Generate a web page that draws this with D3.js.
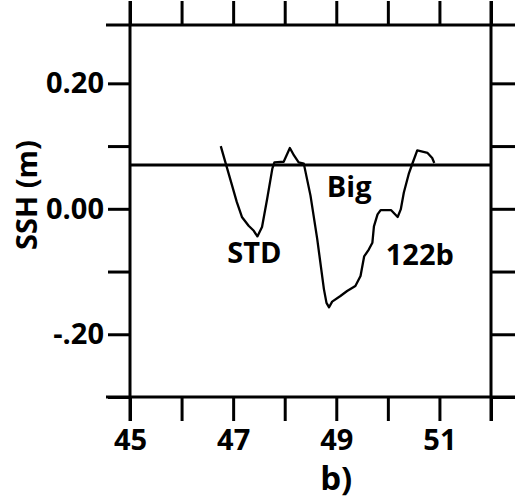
<!DOCTYPE html>
<html>
<head>
<meta charset="utf-8">
<script src="https://cdn.jsdelivr.net/npm/d3@7"></script>
<style>
  html, body { margin: 0; padding: 0; background: #fff; }
  svg text { font-family: "Open Sans", "DejaVu Sans", sans-serif; font-weight: 700; fill: #000; }
</style>
</head>
<body>
<svg id="chart" width="526" height="501"></svg>
<script>
// ---- data ----
const xTicks = [45, 46, 47, 48, 49, 50, 51, 52];
const xTickLabels = ["45", "", "47", "", "49", "", "51", ""];
const yTicks = [-0.3, -0.2, -0.1, 0.0, 0.1, 0.2];
const yTickLabels = ["", "-.20", "", "0.00", "", "0.20"];
const refLevel = 0.07;
const sshX = [46.76, 46.85, 46.98, 47.07, 47.17, 47.30, 47.40, 47.47, 47.56, 47.66, 47.76, 47.80,
              47.98, 48.10, 48.18, 48.27, 48.37, 48.50, 48.63, 48.76, 48.81, 48.86, 48.92, 49.08,
              49.21, 49.37, 49.47, 49.54, 49.63, 49.70, 49.73, 49.80, 49.86, 50.06, 50.19, 50.25,
              50.31, 50.41, 50.48, 50.57, 50.77, 50.86, 50.90];
const sshY = [0.100, 0.074, 0.037, 0.011, -0.013, -0.027, -0.035, -0.044, -0.029, 0.016, 0.064, 0.074,
              0.075, 0.097, 0.085, 0.074, 0.072, 0.021, -0.048, -0.128, -0.150, -0.157, -0.148, -0.139,
              -0.131, -0.123, -0.107, -0.076, -0.065, -0.054, -0.028, -0.009, -0.002, -0.002, -0.013, -0.001,
              0.026, 0.057, 0.073, 0.093, 0.089, 0.081, 0.073];
const labels = [
  {text: "STD", x: 47.41, y: -0.086},
  {text: "Big", x: 49.25, y: 0.019},
  {text: "122b", x: 50.62, y: -0.089}
];
const xTitle = "b)";
const yTitle = "SSH (m)";

// ---- layout ----
const svg = d3.select("#chart");
const x = d3.scaleLinear().domain([45, 52]).range([130, 491]);
const y = d3.scaleLinear().domain([-0.3, 0.293]).range([397, 25]);
const T = 24;
const fs = 29;

const g = svg.append("g");

// frame lines, extended past corners
const [x0, x1] = x.range();
const [yb, yt] = y.range();
const frame = [
  [[x0 - T, yt], [x1 + T, yt]],
  [[x0 - T, yb], [x1 + T, yb]],
  [[x0, yt - T], [x0, yb + T]],
  [[x1, yt - T], [x1, yb + T]]
];
g.selectAll("line.frame").data(frame).join("line")
  .attr("class", "frame")
  .attr("x1", d => d[0][0]).attr("y1", d => d[0][1])
  .attr("x2", d => d[1][0]).attr("y2", d => d[1][1])
  .attr("stroke", "#000").attr("stroke-width", 3);

function styleAxis(sel) {
  sel.select(".domain").remove();
  sel.selectAll(".tick line").attr("stroke", "#000").attr("stroke-width", 3);
  sel.selectAll(".tick text").attr("font-size", fs).attr("font-family", "'Open Sans', sans-serif").attr("font-weight", 700).attr("fill", "#000");
}

const xAxisB = d3.axisBottom(x).tickValues(xTicks).tickSize(T).tickPadding(8)
  .tickFormat((d, i) => xTickLabels[i]);
g.append("g").attr("transform", `translate(0,${yb})`).call(xAxisB).call(styleAxis);

const xAxisT = d3.axisTop(x).tickValues(xTicks).tickSize(T).tickFormat("");
g.append("g").attr("transform", `translate(0,${yt})`).call(xAxisT).call(styleAxis);

const yAxisL = d3.axisLeft(y).tickValues(yTicks).tickSize(T - 2).tickPadding(4)
  .tickFormat((d, i) => yTickLabels[i]);
g.append("g").attr("transform", `translate(${x0},0)`).call(yAxisL).call(styleAxis);

const yAxisR = d3.axisRight(y).tickValues(yTicks).tickSize(T).tickFormat("");
g.append("g").attr("transform", `translate(${x1},0)`).call(yAxisR).call(styleAxis);

// reference line
g.append("line")
  .attr("x1", x0).attr("x2", x1)
  .attr("y1", y(refLevel)).attr("y2", y(refLevel))
  .attr("stroke", "#000").attr("stroke-width", 3);

// SSH curve
const pts = sshX.map((v, i) => [v, sshY[i]]);
g.append("path")
  .datum(pts)
  .attr("fill", "none").attr("stroke", "#000").attr("stroke-width", 2.3)
  .attr("stroke-linejoin", "round")
  .attr("d", d3.line().x(d => x(d[0])).y(d => y(d[1])));

// labels
g.selectAll("text.lab").data(labels).join("text")
  .attr("class", "lab")
  .attr("x", d => x(d.x)).attr("y", d => y(d.y))
  .attr("text-anchor", "middle")
  .attr("font-size", fs)
  .text(d => d.text);

// axis titles
g.append("text").attr("x", x(49)).attr("y", 490).attr("text-anchor", "middle")
  .attr("font-size", 33).text(xTitle);
g.append("text").attr("transform", `translate(37,${y(0.022)}) rotate(-90)`)
  .attr("text-anchor", "middle").attr("font-size", fs).text(yTitle);
</script>
</body>
</html>
